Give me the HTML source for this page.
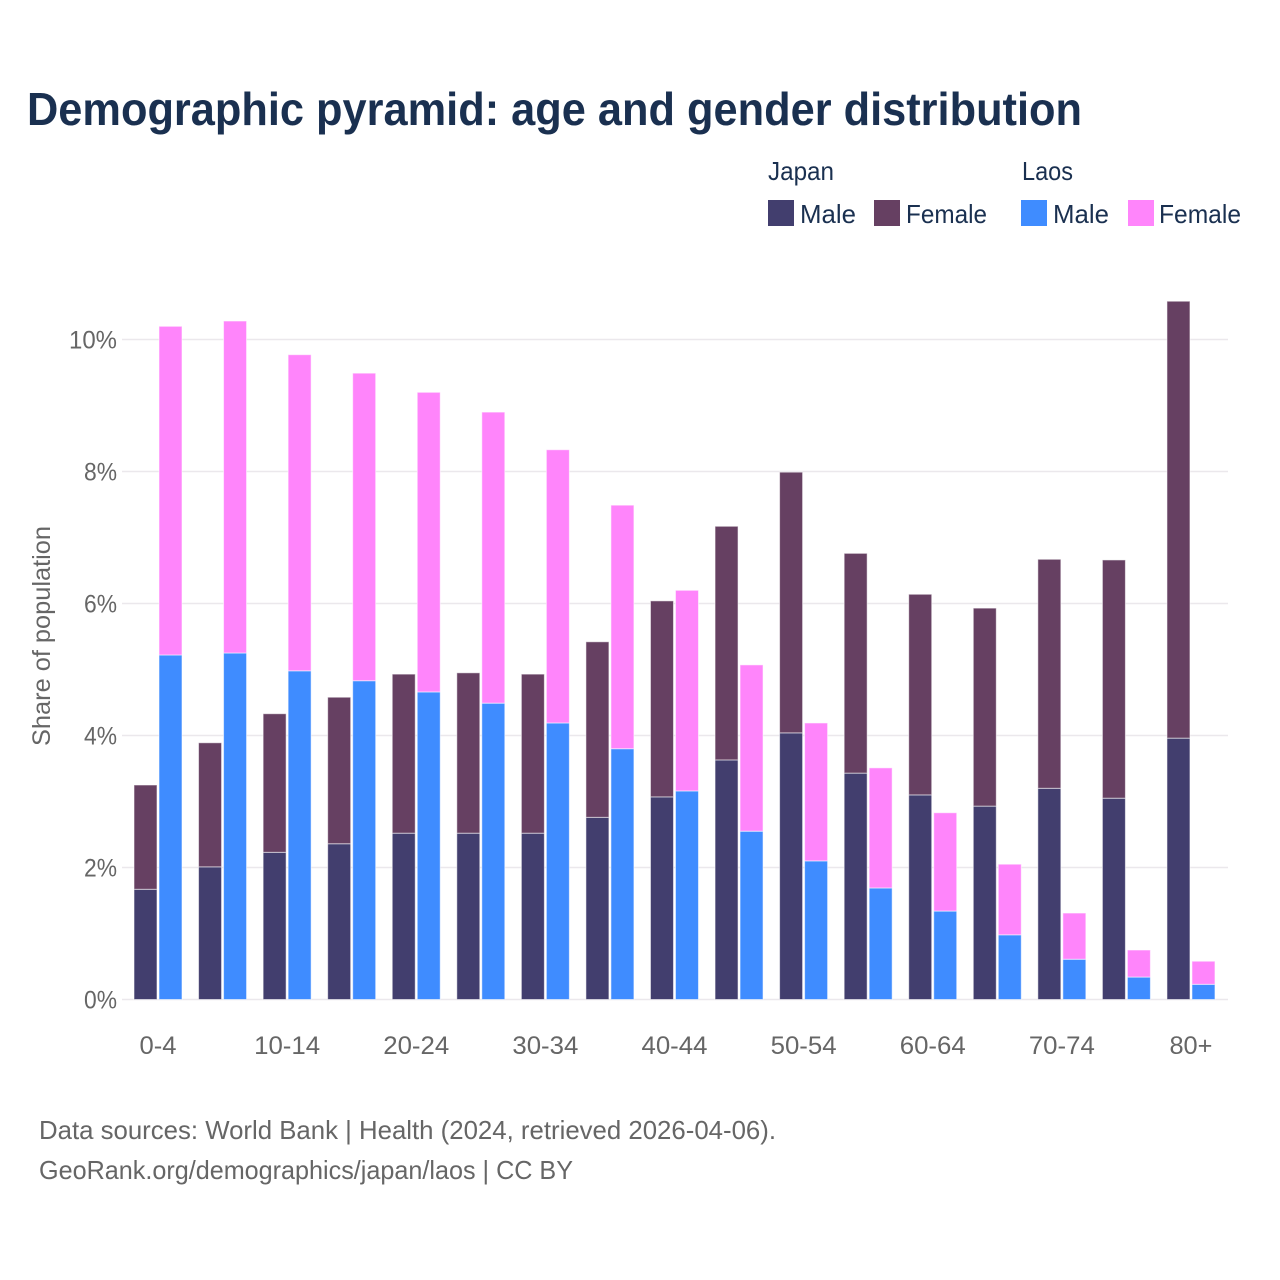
<!DOCTYPE html>
<html lang="en">
<head>
<meta charset="utf-8">
<title>Demographic pyramid: age and gender distribution</title>
<style>
html,body{margin:0;padding:0;background:#fff;width:1280px;height:1280px;overflow:hidden}
svg{display:block}
text{font-family:"Liberation Sans",sans-serif}
</style>
</head>
<body>
<svg id="chart" xmlns="http://www.w3.org/2000/svg" width="1280" height="1280" viewBox="0 0 1280 1280">
<rect width="1280" height="1280" fill="#ffffff"/>
<text x="27" y="125" font-size="46" font-weight="700" fill="#1a3050" textLength="1055" lengthAdjust="spacingAndGlyphs">Demographic pyramid: age and gender distribution</text>
<g font-size="26" fill="#1a3050">
<text x="768" y="180" textLength="66" lengthAdjust="spacingAndGlyphs">Japan</text>
<text x="1022" y="180" textLength="51" lengthAdjust="spacingAndGlyphs">Laos</text>
<rect x="768" y="200" width="26" height="26" fill="#423e6e"/>
<text x="800" y="223" textLength="56" lengthAdjust="spacingAndGlyphs">Male</text>
<rect x="874" y="200" width="26" height="26" fill="#664062"/>
<text x="906" y="223" textLength="81" lengthAdjust="spacingAndGlyphs">Female</text>
<rect x="1021" y="200" width="26" height="26" fill="#3f8cff"/>
<text x="1053" y="223" textLength="56" lengthAdjust="spacingAndGlyphs">Male</text>
<rect x="1128" y="200" width="26" height="26" fill="#ff85fb"/>
<text x="1159" y="223" textLength="82" lengthAdjust="spacingAndGlyphs">Female</text>
</g>
<text transform="translate(50,636) rotate(-90)" text-anchor="middle" font-size="25" fill="#666666" textLength="220" lengthAdjust="spacingAndGlyphs">Share of population</text>
<g id="grid"></g>
<g id="yticks"></g>
<g id="bars"></g>
<g id="xticks"></g>
<g font-size="26" fill="#666666">
<text x="39" y="1139" textLength="737" lengthAdjust="spacingAndGlyphs">Data sources: World Bank | Health (2024, retrieved 2026-04-06).</text>
<text x="39" y="1179" textLength="534" lengthAdjust="spacingAndGlyphs">GeoRank.org/demographics/japan/laos | CC BY</text>
</g>
</svg>
<script>
const categories = ["0-4","5-9","10-14","15-19","20-24","25-29","30-34","35-39","40-44","45-49","50-54","55-59","60-64","65-69","70-74","75-79","80+"];
const japanMale = [1.67,2.01,2.23,2.36,2.52,2.52,2.52,2.76,3.07,3.63,4.04,3.43,3.10,2.93,3.20,3.05,3.96];
const japanFemale = [1.58,1.88,2.10,2.22,2.41,2.43,2.41,2.66,2.97,3.54,3.95,3.33,3.04,3.00,3.47,3.61,6.62];
const laosMale = [5.22,5.25,4.98,4.83,4.66,4.49,4.19,3.80,3.16,2.55,2.10,1.69,1.34,0.98,0.61,0.34,0.23];
const laosFemale = [4.98,5.03,4.79,4.66,4.54,4.41,4.14,3.69,3.04,2.52,2.09,1.82,1.49,1.07,0.70,0.41,0.35];
const yTickValues = [0,2,4,6,8,10];
const yTickLabels = ["0%","2%","4%","6%","8%","10%"];
const xTickLabels = ["0-4","10-14","20-24","30-34","40-44","50-54","60-64","70-74","80+"];

const NS = "http://www.w3.org/2000/svg";
const plotLeft = 122, plotRight = 1228;
const y = v => 999.5 - v * 66;
const x = i => 158 + i * 64.56;
const barW = 23;

function mk(parent, tag, attrs) {
  const el = document.createElementNS(NS, tag);
  for (const k in attrs) el.setAttribute(k, attrs[k]);
  parent.appendChild(el);
  return el;
}

const grid = document.getElementById("grid");
const yticks = document.getElementById("yticks");
yTickValues.forEach((v, i) => {
  const line = mk(grid, "line", {x1: plotLeft, x2: plotRight, y1: y(v), y2: y(v), stroke: "#ebe8ec", "stroke-width": 1.4});
  
  
  const label = yTickLabels[i];
  const t = mk(yticks, "text", {x: 117, y: y(v) + 9, "text-anchor": "end", "font-size": 25, fill: "#666666", textLength: label.length === 3 ? 48 : 33, lengthAdjust: "spacingAndGlyphs"});
  t.textContent = label;
  
  
});

const barsG = document.getElementById("bars");
function drawBar(left, base, value, fill) {
  const r = mk(barsG, "rect", {x: left, y: y(base + value), width: barW, height: y(base) - y(base + value), fill: fill, stroke: "#ffffff", "stroke-opacity": 0.55, "stroke-width": 1});
  
  
}
categories.forEach((c, i) => {
  const cx = x(i);
  drawBar(cx - 24, 0, japanMale[i], "#423e6e");
  drawBar(cx - 24, japanMale[i], japanFemale[i], "#664062");
  drawBar(cx + 1, 0, laosMale[i], "#3f8cff");
  drawBar(cx + 1, laosMale[i], laosFemale[i], "#ff85fb");
});

const xticks = document.getElementById("xticks");
xTickLabels.forEach(label => {
  const i = categories.indexOf(label);
  const w = label.length === 5 ? 66 : label === "80+" ? 43 : 37;
  const t = mk(xticks, "text", {x: x(i), y: 1054, "text-anchor": "middle", "font-size": 25, fill: "#666666", textLength: w, lengthAdjust: "spacingAndGlyphs"});
  t.textContent = label;
  
  
});
</script>
</body>
</html>
